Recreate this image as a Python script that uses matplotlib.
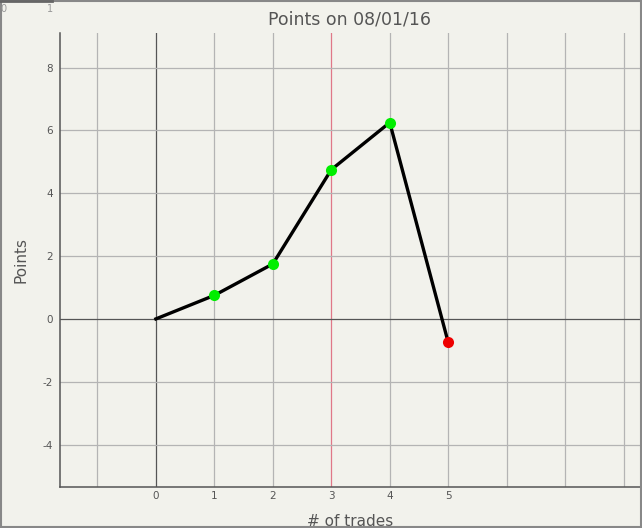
import matplotlib.pyplot as plt
from matplotlib.patches import Rectangle

plt.rcParams['axes.unicode_minus'] = False

# data
trades = [0, 1, 2, 3, 4, 5]
points = [0, 0.75, 1.75, 4.75, 6.25, -0.75]
x_ticks = [0, 1, 2, 3, 4, 5]
y_ticks = [-4, -2, 0, 2, 4, 6, 8]
x_grid = [-1, 0, 1, 2, 3, 4, 5, 6, 7, 8]

BG = '#f2f2ec'
TXT = '#555555'

fig = plt.figure(figsize=(6.42, 5.28), dpi=100, facecolor=BG)
ax = fig.add_axes([60 / 642, 41 / 528, 580 / 642, 454 / 528])
ax.set_facecolor(BG)

ax.set_xlim(-1.64, 8.28)
ax.set_ylim(-5.35, 9.1)

# grid lines
for gx in x_grid:
    if gx == 0:
        c, lw = '#555555', 0.9
    elif gx == 3:
        c, lw = '#e07888', 0.9
    else:
        c, lw = '#b4b4b4', 0.9
    ax.axvline(gx, color=c, lw=lw, zorder=1)
for gy in [-4, -2, 0, 2, 4, 6, 8]:
    c = '#555555' if gy == 0 else '#b4b4b4'
    ax.axhline(gy, color=c, lw=0.9, zorder=1)

ax.plot(trades, points, color='black', lw=2.4, zorder=3)
colors = ['none', '#00ee00', '#00ee00', '#00ee00', '#00ee00', '#ee0000']
for x, y, c in zip(trades[1:], points[1:], colors[1:]):
    ax.plot(x, y, 'o', color=c, markersize=8, markeredgewidth=0, zorder=4)

ax.set_xticks(x_ticks)
ax.set_yticks(y_ticks)
ax.tick_params(length=0, labelsize=7.5, labelcolor=TXT, pad=3)
ax.tick_params(axis='y', pad=5)
for s in ['top', 'right']:
    ax.spines[s].set_visible(False)
for s in ['left', 'bottom']:
    ax.spines[s].set_color('#555555')
    ax.spines[s].set_linewidth(1.1)

ax.set_title('Points on 08/01/16', fontsize=12.5, color=TXT, pad=6)
ax.set_xlabel('# of trades', fontsize=11, color=TXT, labelpad=9)
ax.set_ylabel('Points', fontsize=11, color=TXT, labelpad=10)

# stray labels top-left and figure border
fig.text(3 / 642, 1 - 9 / 528, '0', fontsize=7, color='#999999', va='center', ha='center')
fig.text(50 / 642, 1 - 9 / 528, '1', fontsize=7, color='#999999', va='center', ha='center')
fig.add_artist(Rectangle((0.001, 0.001), 0.997, 0.997, transform=fig.transFigure,
                         fill=False, edgecolor='#888888', lw=1.5))
fig.add_artist(plt.Line2D([0, 52 / 642], [0.998, 0.998], transform=fig.transFigure,
                          color='#666666', lw=2))

fig.savefig('out.png', dpi=100, facecolor=BG)
